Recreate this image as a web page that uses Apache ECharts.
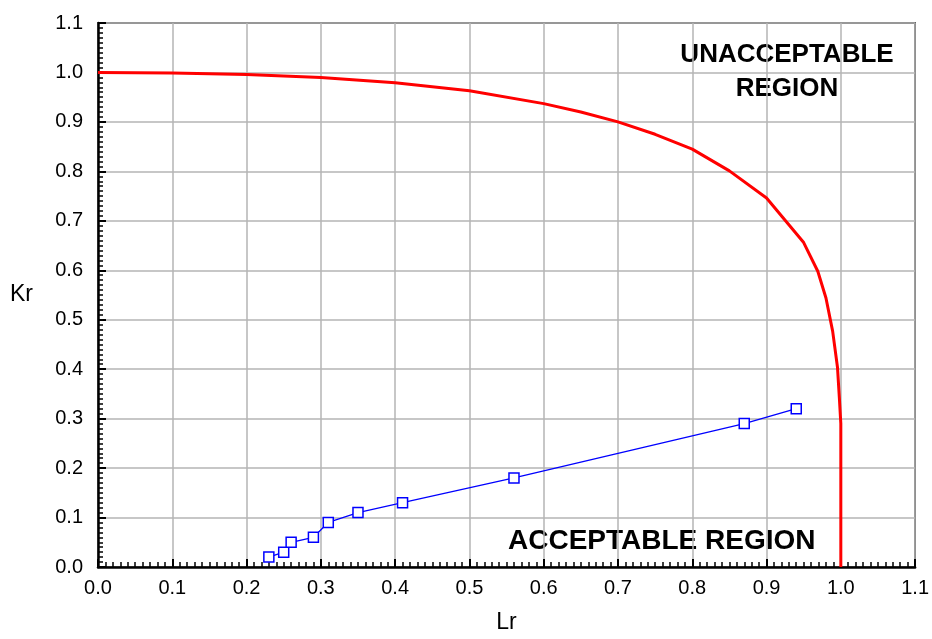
<!DOCTYPE html>
<html><head><meta charset="utf-8">
<script src="https://cdn.jsdelivr.net/npm/echarts@6/dist/echarts.min.js"></script>
<style>html,body{margin:0;padding:0;background:#fff}#c{width:932px;height:639px}</style>
</head><body><div id="c"></div>
<script>
// Failure assessment curve (Lr, Kr)
const fadLr = [0.0, 0.1, 0.2, 0.3, 0.4, 0.5, 0.6, 0.65, 0.7, 0.75, 0.8, 0.85, 0.9, 0.95, 0.969, 0.98, 0.989, 0.9955, 0.998, 1.0, 1.0];
const fadKr = [1.0, 0.999, 0.996, 0.99, 0.979, 0.963, 0.937, 0.92, 0.9, 0.875, 0.845, 0.801, 0.746, 0.656, 0.598, 0.544, 0.477, 0.404, 0.343, 0.29, 0.0];
// Assessment points
const ptLr = [0.23, 0.25, 0.26, 0.29, 0.31, 0.35, 0.41, 0.56, 0.87, 0.94];
const ptKr = [0.02, 0.03, 0.05, 0.06, 0.09, 0.11, 0.13, 0.18, 0.29, 0.32];
const axisMin = 0, axisMax = 1.1, axisStep = 0.1;
const xName = 'Lr', yName = 'Kr';
const labelTop = 'UNACCEPTABLE\nREGION', labelBottom = 'ACCEPTABLE REGION';

const chart = echarts.init(document.getElementById('c'));
const FONT = 'Liberation Sans, Arial, sans-serif';
function axis(name, gap, margin) {
  return {
    type: 'value', min: axisMin, max: axisMax, interval: axisStep,
    name: name, nameLocation: 'middle', nameGap: gap, nameRotate: 0,
    nameTextStyle: {color: '#000', fontSize: 23, fontFamily: FONT},
    axisLine: {show: true, onZero: false, lineStyle: {color: '#000', width: 2.5}},
    axisTick: {show: true, inside: true, length: 8, lineStyle: {color: '#000', width: 2}},
    minorTick: {show: true, splitNumber: 10, length: 5, lineStyle: {color: '#000', width: 1.5}},
    axisLabel: {color: '#000', fontSize: 20, fontFamily: FONT, margin: margin,
      formatter: v => v.toFixed(1)},
    splitLine: {show: true, lineStyle: {color: '#b4b4b4', width: 1.5}},
    minorSplitLine: {show: false}
  };
}
chart.setOption({
  animation: false,
  grid: {left: 98, right: 12, top: 23, bottom: 68, show: true, borderColor: '#000', borderWidth: 1.5, containLabel: false},
  xAxis: axis(xName, 44, 11),
  yAxis: axis(yName, 65, 15),
  series: [
    {type: 'line', data: fadLr.map((x, i) => [x, fadKr[i]]), showSymbol: false, symbol: 'none',
     lineStyle: {color: '#ff0000', width: 3}, z: 3},
    {type: 'line', data: ptLr.map((x, i) => [x, ptKr[i]]), symbol: 'rect', symbolSize: 10,
     showAllSymbol: true,
     lineStyle: {color: '#0000ff', width: 1.3},
     itemStyle: {color: '#fff', borderColor: '#0000ff', borderWidth: 1.5}, z: 4}
  ],
  graphic: [
    {type: 'text', x: 787, y: 38, style: {text: labelTop, font: 'bold 26px ' + FONT, fill: '#000', lineHeight: 34, align: 'center', verticalAlign: 'top'}},
    {type: 'text', x: 508, y: 527, style: {text: labelBottom, font: 'bold 28px ' + FONT, fill: '#000', verticalAlign: 'top'}}
  ]
});
</script></body></html>
